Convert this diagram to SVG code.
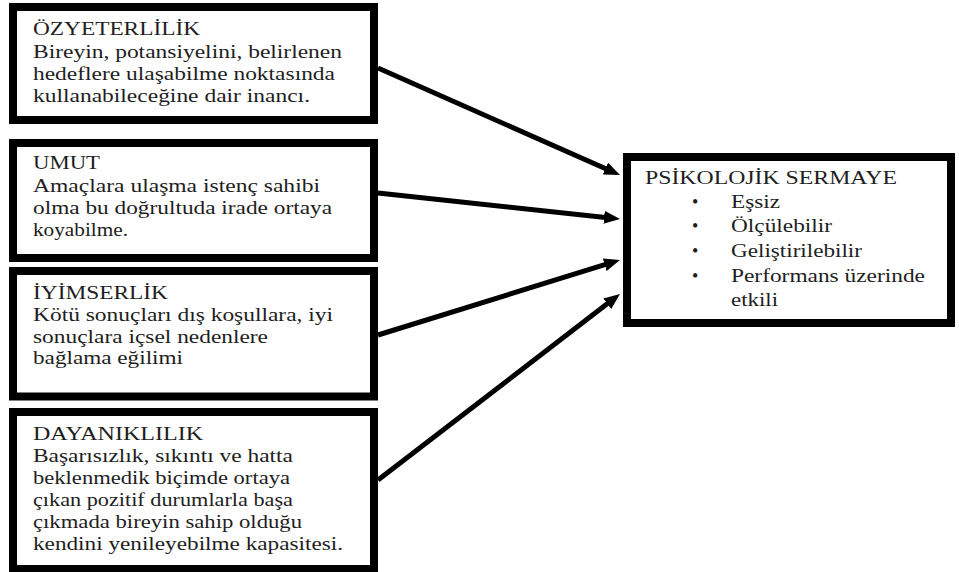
<svg xmlns="http://www.w3.org/2000/svg" width="959" height="572" viewBox="0 0 959 572">
<style>
.box{fill:#fff;stroke:#000;stroke-width:8}
.conn line{stroke:#000;stroke-width:5}
</style>
<defs>
<marker id="ah" markerUnits="userSpaceOnUse" markerWidth="18" markerHeight="14" refX="6" refY="6.5" orient="auto" viewBox="0 0 18 14">
<path d="M0,0 L16,6.5 L0,13 z" fill="#000"/>
</marker>
</defs>
<rect width="959" height="572" fill="#fff"/>
<g font-family="Liberation Serif, Tinos, Times New Roman, DejaVu Serif, serif" font-size="18" fill="#1e1e1e">
<g id="ozyeterlilik">
<rect class="box" x="13" y="7" width="361" height="113"/>
<text x="33" y="35" textLength="167" lengthAdjust="spacingAndGlyphs">ÖZYETERLİLİK</text>
<text x="33" y="57.5" textLength="309" lengthAdjust="spacingAndGlyphs">Bireyin, potansiyelini, belirlenen</text>
<text x="33" y="79.5" textLength="302" lengthAdjust="spacingAndGlyphs">hedeflere ulaşabilme noktasında</text>
<text x="33" y="101.5" textLength="277" lengthAdjust="spacingAndGlyphs">kullanabileceğine dair inancı.</text>
</g>
<g id="umut">
<rect class="box" x="13" y="143" width="361" height="115"/>
<text x="33" y="169" textLength="67" lengthAdjust="spacingAndGlyphs">UMUT</text>
<text x="33" y="191.5" textLength="287" lengthAdjust="spacingAndGlyphs">Amaçlara ulaşma istenç sahibi</text>
<text x="33" y="214" textLength="299" lengthAdjust="spacingAndGlyphs">olma bu doğrultuda irade ortaya</text>
<text x="33" y="236" textLength="95" lengthAdjust="spacingAndGlyphs">koyabilme.</text>
</g>
<g id="iyimserlik">
<rect class="box" x="13" y="271" width="361" height="125.5"/>
<text x="33" y="299" textLength="135" lengthAdjust="spacingAndGlyphs">İYİMSERLİK</text>
<text x="33" y="321" textLength="300" lengthAdjust="spacingAndGlyphs">Kötü sonuçları dış koşullara, iyi</text>
<text x="33" y="342.5" textLength="235" lengthAdjust="spacingAndGlyphs">sonuçlara içsel nedenlere</text>
<text x="33" y="364" textLength="150" lengthAdjust="spacingAndGlyphs">bağlama eğilimi</text>
</g>
<g id="dayaniklilik">
<rect class="box" x="13" y="412" width="361" height="157"/>
<text x="33" y="440" textLength="170" lengthAdjust="spacingAndGlyphs">DAYANIKLILIK</text>
<text x="33" y="462" textLength="260" lengthAdjust="spacingAndGlyphs">Başarısızlık, sıkıntı ve hatta</text>
<text x="33" y="484" textLength="257" lengthAdjust="spacingAndGlyphs">beklenmedik biçimde ortaya</text>
<text x="33" y="506" textLength="260" lengthAdjust="spacingAndGlyphs">çıkan pozitif durumlarla başa</text>
<text x="33" y="528" textLength="269" lengthAdjust="spacingAndGlyphs">çıkmada bireyin sahip olduğu</text>
<text x="33" y="550" textLength="310" lengthAdjust="spacingAndGlyphs">kendini yenileyebilme kapasitesi.</text>
</g>
<g id="psikolojik-sermaye">
<rect class="box" x="627" y="157" width="324" height="166"/>
<text x="645" y="184" textLength="252" lengthAdjust="spacingAndGlyphs">PSİKOLOJİK SERMAYE</text>
<text x="692" y="208">•</text>
<text x="731" y="208" textLength="49" lengthAdjust="spacingAndGlyphs">Eşsiz</text>
<text x="692" y="232">•</text>
<text x="731" y="232" textLength="101" lengthAdjust="spacingAndGlyphs">Ölçülebilir</text>
<text x="692" y="257">•</text>
<text x="731" y="257" textLength="131" lengthAdjust="spacingAndGlyphs">Geliştirilebilir</text>
<text x="692" y="282">•</text>
<text x="731" y="282" textLength="194" lengthAdjust="spacingAndGlyphs">Performans üzerinde</text>
<text x="731" y="306" textLength="47" lengthAdjust="spacingAndGlyphs">etkili</text>
</g>
</g>
<g id="connectors" class="conn">
<line x1="378" y1="68" x2="610.85" y2="170.96" marker-end="url(#ah)"/>
<line x1="378" y1="193" x2="610.06" y2="217.93" marker-end="url(#ah)"/>
<line x1="378" y1="335" x2="610.45" y2="262.96" marker-end="url(#ah)"/>
<line x1="378" y1="480" x2="612.07" y2="300.09" marker-end="url(#ah)"/>
</g>
</svg>
